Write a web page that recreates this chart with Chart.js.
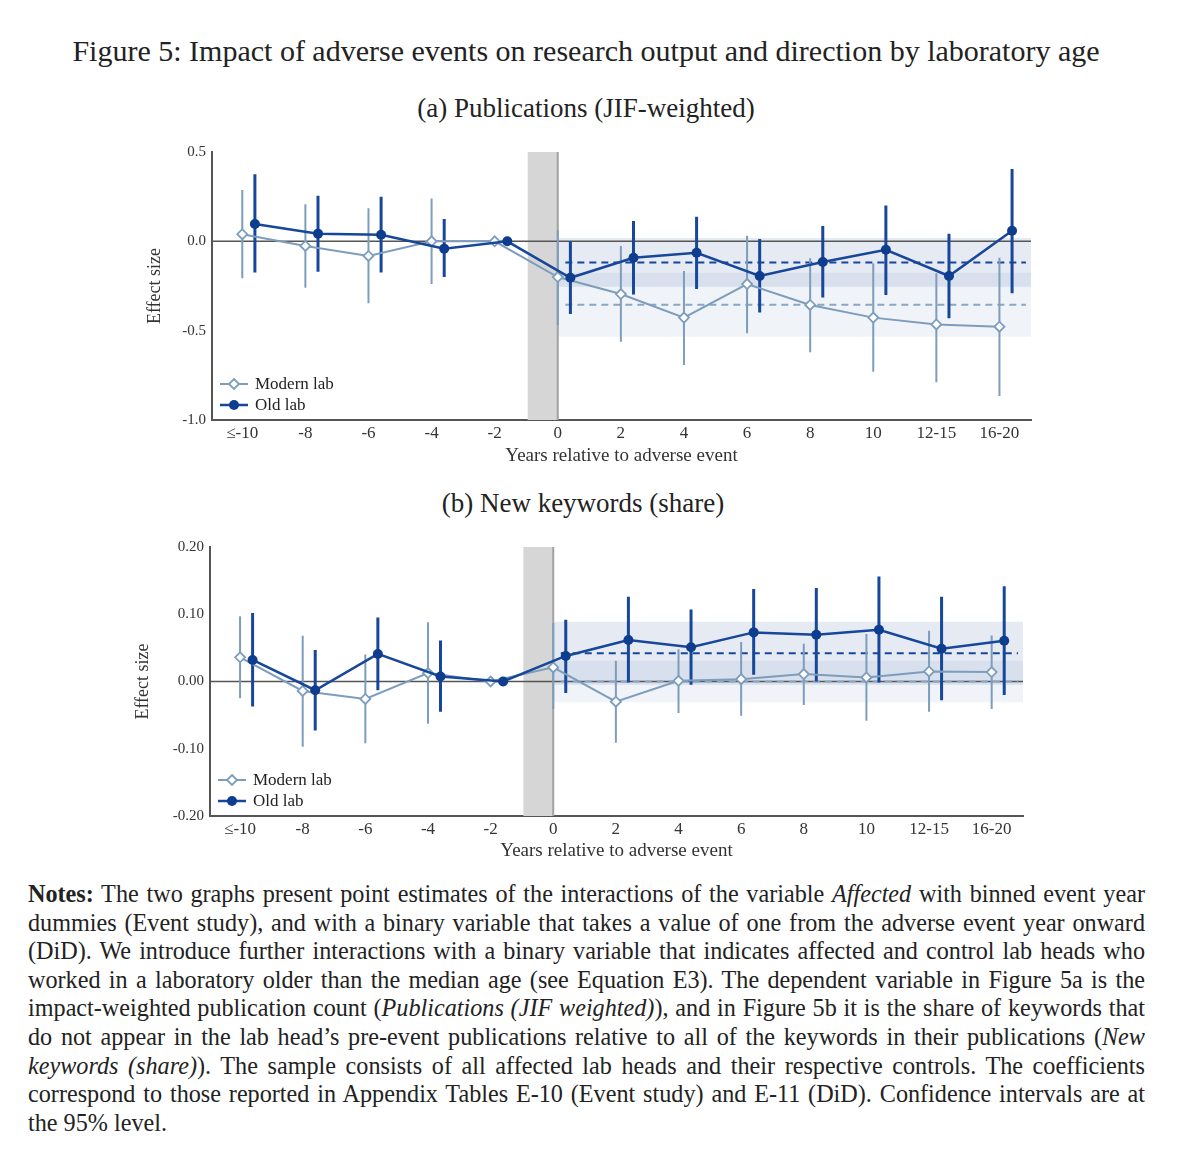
<!DOCTYPE html>
<html>
<head>
<meta charset="utf-8">
<script src="https://cdn.jsdelivr.net/npm/chart.js@4.4.1/dist/chart.umd.min.js"></script>
<style>
  body { margin: 0; background: #fff; }
  #page { position: relative; width: 1200px; height: 1173px; overflow: hidden; font-family: "Liberation Serif", serif; color: #222; }
  .fit { position: absolute; white-space: nowrap; line-height: 1; transform: translateX(-50%); }
  #notes { position: absolute; left: 28px; top: 880px; width: 1117px; font-size: 22px; }
  #notes div { height: 28.6px; line-height: 28.6px; text-align: justify; text-align-last: justify; white-space: nowrap; }
  #notes div.last { text-align-last: left; }
  #notes span.m { display: inline-block; }
  canvas { position: absolute; }
</style>
</head>
<body>
<div id="page">
  <div class="fit" id="title" data-w="1028" style="left:586px; top:36px; font-size:28px;">Figure 5: Impact of adverse events on research output and direction by laboratory age</div>
  <div class="fit" id="subA" data-w="337" style="left:586px; top:95px; font-size:23px;">(a) Publications (JIF-weighted)</div>
  <div class="fit" id="subB" data-w="283" style="left:583px; top:490px; font-size:23px;">(b) New keywords (share)</div>

  <div style="position:absolute; left:130px; top:137px; width:920px; height:333px;"><canvas id="chartA"></canvas></div>
  <div style="position:absolute; left:118px; top:532px; width:920px; height:333px;"><canvas id="chartB"></canvas></div>

  <div id="notes">
    <div><b>Notes:</b> The two graphs present point estimates of the interactions of the variable <i>Affected</i> with binned event year</div>
    <div>dummies (Event study), and with a binary variable that takes a value of one from the adverse event year onward</div>
    <div>(DiD). We introduce further interactions with a binary variable that indicates affected and control lab heads who</div>
    <div>worked in a laboratory older than the median age (see Equation E3). The dependent variable in Figure 5a is the</div>
    <div>impact-weighted publication count (<i>Publications (JIF weighted)</i>), and in Figure 5b it is the share of keywords that</div>
    <div>do not appear in the lab head’s pre-event publications relative to all of the keywords in their publications (<i>New</i></div>
    <div><i>keywords (share)</i>). The sample consists of all affected lab heads and their respective controls. The coefficients</div>
    <div>correspond to those reported in Appendix Tables E-10 (Event study) and E-11 (DiD). Confidence intervals are at</div>
    <div class="last">the 95% level.</div>
  </div>
</div>
<script>
// bins on the x axis
const xLabels = ["≤-10", "-8", "-6", "-4", "-2", "0", "2", "4", "6", "8", "10", "12-15", "16-20"];

// (a) Publications (JIF-weighted)
const pubModern = [0.04, -0.026, -0.082, 0.0, 0, -0.2, -0.295, -0.427, -0.239, -0.356, -0.427, -0.465, -0.478];
const pubModernLo = [-0.207, -0.26, -0.347, -0.239, null, -0.468, -0.562, -0.692, -0.515, -0.621, -0.73, -0.789, -0.866];
const pubModernHi = [0.287, 0.207, 0.185, 0.24, null, 0.063, -0.026, -0.166, 0.031, -0.095, -0.123, -0.179, -0.092];
const pubOld = [0.097, 0.043, 0.037, -0.041, 0, -0.204, -0.092, -0.064, -0.194, -0.116, -0.047, -0.194, 0.059];
const pubOldLo = [-0.175, -0.17, -0.174, -0.2, null, -0.407, -0.297, -0.267, -0.399, -0.315, -0.3, -0.431, -0.291];
const pubOldHi = [0.375, 0.255, 0.25, 0.125, null, 0.0, 0.114, 0.138, 0.013, 0.086, 0.201, 0.043, 0.405];
const pubDidModern = [-0.355, -0.534, -0.176]; // estimate, lower, upper
const pubDidOld = [-0.118, -0.254, 0.018];
const pubTicks = [-1.0, -0.5, 0.0, 0.5];

// (b) New keywords (share)
const kwModern = [0.036, -0.014, -0.026, 0.0125, 0, 0.021, -0.03, 0.001, 0.0035, 0.011, 0.006, 0.015, 0.014];
const kwModernLo = [-0.025, -0.097, -0.092, -0.063, null, -0.041, -0.091, -0.047, -0.051, -0.035, -0.0585, -0.045, -0.041];
const kwModernHi = [0.097, 0.068, 0.04, 0.088, null, 0.087, 0.031, 0.048, 0.0586, 0.056, 0.0705, 0.0755, 0.0685];
const kwOld = [0.032, -0.013, 0.041, 0.0075, 0, 0.038, 0.0616, 0.051, 0.073, 0.0695, 0.077, 0.0487, 0.0606];
const kwOldLo = [-0.037, -0.073, -0.013, -0.045, null, -0.017, -0.0015, -0.005, 0.01, 0.0, -0.0015, -0.028, -0.02];
const kwOldHi = [0.102, 0.047, 0.095, 0.061, null, 0.092, 0.126, 0.107, 0.1375, 0.139, 0.156, 0.126, 0.1415];
const kwDidModern = [0.0, -0.031, 0.031];
const kwDidOld = [0.042, -0.005, 0.089];
const kwTicks = [-0.2, -0.1, 0.0, 0.1, 0.2];

const MODERN = "#7d9dbd";
const OLD = "#17479a";
const OLD_DOT = "#0e3d8f";
const FONT = "'Liberation Serif', serif";

// squeeze title lines to the reference widths
document.querySelectorAll(".fit").forEach((el) => {
  const size = parseFloat(el.style.fontSize);
  el.style.fontSize = (size * el.dataset.w) / el.offsetWidth + "px";
});

// notes: grow the font until the widest line nearly fills the column
(function fitNotes() {
  const notes = document.getElementById("notes");
  const rows = [...notes.children];
  rows.forEach((r) => { r.innerHTML = '<span class="m">' + r.innerHTML + "</span>"; });
  const widest = Math.max(...rows.map((r) => r.firstChild.offsetWidth));
  const size = parseFloat(getComputedStyle(notes).fontSize);
  notes.style.fontSize = Math.floor(size * 1108 / widest * 10) / 10 + "px";
  rows.forEach((r) => { r.innerHTML = r.firstChild.innerHTML; });
})();

function errorBars(lo, hi, off) {
  const pts = [];
  lo.forEach((v, i) => {
    if (v === null) return;
    pts.push({ x: i + off, y: v }, { x: i + off, y: hi[i] }, { x: i + off, y: null });
  });
  return pts;
}

const legendPlugin = {
  id: "innerLegend",
  afterDatasetsDraw(chart) {
    const { ctx, chartArea } = chart;
    const x0 = chartArea.left + 8;
    const rows = [
      { y: chartArea.bottom - 36, label: "Modern lab", color: MODERN, diamond: true },
      { y: chartArea.bottom - 15, label: "Old lab", color: OLD, diamond: false },
    ];
    ctx.save();
    rows.forEach((r) => {
      ctx.strokeStyle = r.color;
      ctx.lineWidth = r.diamond ? 2 : 2.5;
      ctx.beginPath();
      ctx.moveTo(x0, r.y);
      ctx.lineTo(x0 + 28, r.y);
      ctx.stroke();
      const cx = x0 + 14;
      ctx.beginPath();
      if (r.diamond) {
        ctx.moveTo(cx, r.y - 5);
        ctx.lineTo(cx + 5, r.y);
        ctx.lineTo(cx, r.y + 5);
        ctx.lineTo(cx - 5, r.y);
        ctx.closePath();
        ctx.fillStyle = "#fff";
        ctx.fill();
        ctx.lineWidth = 1.8;
        ctx.stroke();
      } else {
        ctx.arc(cx, r.y, 5, 0, Math.PI * 2);
        ctx.fillStyle = OLD_DOT;
        ctx.fill();
      }
      ctx.fillStyle = "#222";
      ctx.font = "17px " + FONT;
      ctx.textBaseline = "middle";
      ctx.fillText(r.label, x0 + 35, r.y + 1);
    });
    ctx.restore();
  },
};

function makeChart(id, cfg) {
  const { modern, modernLo, modernHi, old, oldLo, oldHi, didModern, didOld, yTicks, decimals, yWidth, padRight, xHeight } = cfg;
  const yMin = yTicks[0];
  const yMax = yTicks[yTicks.length - 1];
  const xMin = -0.48;
  const xMax = 12.5;
  const line = (data, extra) => Object.assign({ data, pointRadius: 0, borderWidth: 0, fill: false }, extra);

  return new Chart(document.getElementById(id), {
    type: "line",
    data: {
      datasets: [
        line(old.map((v, i) => ({ x: i + 0.2, y: v })), {
          order: 1, borderColor: OLD, borderWidth: 2.5, pointRadius: 5,
          pointBackgroundColor: OLD_DOT, pointBorderColor: OLD_DOT, pointBorderWidth: 0,
        }),
        line(modern.map((v, i) => ({ x: i, y: v })), {
          order: 2, borderColor: MODERN, borderWidth: 2, pointRadius: 5, pointStyle: "rectRot",
          pointBackgroundColor: "#fff", pointBorderColor: MODERN, pointBorderWidth: 1.8,
        }),
        line(errorBars(oldLo, oldHi, 0.2), { order: 3, borderColor: OLD, borderWidth: 3 }),
        line(errorBars(modernLo, modernHi, 0), { order: 4, borderColor: MODERN, borderWidth: 2 }),
        line([{ x: 5.12, y: didOld[0] }, { x: 12.42, y: didOld[0] }], { order: 5, borderColor: OLD, borderWidth: 2, borderDash: [7, 5] }),
        line([{ x: 5.12, y: didModern[0] }, { x: 12.42, y: didModern[0] }], { order: 6, borderColor: "#8aa6c4", borderWidth: 2, borderDash: [7, 5] }),
        line([{ x: xMin, y: 0 }, { x: xMax, y: 0 }], { order: 7, borderColor: "#555", borderWidth: 1.5 }),
        line([{ x: 5, y: yMax }, { x: 5, y: yMin }], { order: 8, borderColor: "#a2a2a2", borderWidth: 2 }),
        line([{ x: 5, y: didOld[2] }, { x: xMax, y: didOld[2] }], { order: 9, fill: { value: didOld[1] }, backgroundColor: "rgba(40,80,160,0.12)" }),
        line([{ x: 5, y: didModern[2] }, { x: xMax, y: didModern[2] }], { order: 10, fill: { value: didModern[1] }, backgroundColor: "rgba(40,80,160,0.07)" }),
        line([{ x: 4.52, y: yMax }, { x: 5, y: yMax }], { order: 11, fill: { value: yMin }, backgroundColor: "#d6d6d6" }),
      ],
    },
    options: {
      responsive: true,
      maintainAspectRatio: false,
      animation: false,
      events: [],
      layout: { padding: { top: 9, right: padRight, left: 0, bottom: 0 } },
      plugins: { legend: { display: false }, tooltip: { enabled: false } },
      scales: {
        x: {
          type: "linear",
          min: xMin,
          max: xMax,
          grid: { display: false, drawTicks: false },
          border: { display: true, color: "#555", width: 2 },
          afterBuildTicks: (s) => { s.ticks = xLabels.map((_, i) => ({ value: i })); },
          afterFit: (s) => { s.height = xHeight; },
          ticks: { padding: 3, color: "#333", font: { family: FONT, size: 17 }, maxRotation: 0, callback: (v) => xLabels[v] },
          title: { display: true, text: "Years relative to adverse event", color: "#333", font: { family: FONT, size: 19 }, padding: { top: 0, bottom: 3 } },
        },
        y: {
          min: yMin,
          max: yMax,
          grid: { display: false, drawTicks: false },
          border: { display: true, color: "#555", width: 2 },
          afterBuildTicks: (s) => { s.ticks = yTicks.map((v) => ({ value: v })); },
          afterFit: (s) => { s.width = yWidth; },
          ticks: { padding: 6, color: "#333", font: { family: FONT, size: 15 }, callback: (v) => (Math.abs(v) < 1e-9 ? 0 : v).toFixed(decimals) },
          title: { display: true, text: "Effect size", color: "#333", font: { family: FONT, size: 18 }, padding: { top: 14, bottom: 0 } },
        },
      },
    },
    plugins: [legendPlugin],
  });
}

makeChart("chartA", {
  modern: pubModern, modernLo: pubModernLo, modernHi: pubModernHi,
  old: pubOld, oldLo: pubOldLo, oldHi: pubOldHi,
  didModern: pubDidModern, didOld: pubDidOld,
  yTicks: pubTicks, decimals: 1, yWidth: 82, padRight: 19, xHeight: 50,
});

makeChart("chartB", {
  modern: kwModern, modernLo: kwModernLo, modernHi: kwModernHi,
  old: kwOld, oldLo: kwOldLo, oldHi: kwOldHi,
  didModern: kwDidModern, didOld: kwDidOld,
  yTicks: kwTicks, decimals: 2, yWidth: 92, padRight: 15, xHeight: 49,
});
</script>
</body>
</html>
